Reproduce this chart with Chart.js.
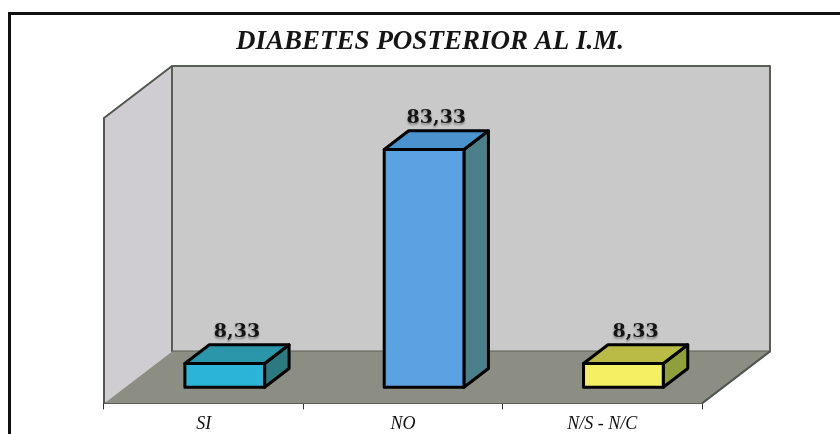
<!DOCTYPE html>
<html>
<head>
<meta charset="utf-8">
<script src="https://cdn.jsdelivr.net/npm/chart.js@4/dist/chart.umd.min.js"></script>
<style>
  html,body{margin:0;padding:0;background:#fff;}
  #wrap{width:840px;height:434px;}
</style>
</head>
<body>
<div id="wrap"><canvas id="c" width="840" height="434"></canvas></div>
<script>
// datos del grafico
const titleText = "DIABETES POSTERIOR AL I.M.";
const categories = ["SI", "NO", "N/S - N/C"];
const values = [8.33, 83.33, 8.33];
const frontColors = ["#2cb3d8", "#5ba2e2", "#f3f064"];
const topColors   = ["#2b95a9", "#4a93cf", "#b9bb45"];
const sideColors  = ["#2a7a80", "#4b7f8a", "#8f9f3c"];

const fmt = n => n.toFixed(2).replace(".", ",");

// profundidad del "3D" (pared del fondo) y de las barras
const DEPTH = { dx: 68, dy: -52 };
const BAR_OFF = 0.31, BAR_DEPTH = 0.36;

function poly(ctx, pts, fill, stroke, lw){
  ctx.beginPath();
  ctx.moveTo(pts[0][0], pts[0][1]);
  for(let i=1;i<pts.length;i++) ctx.lineTo(pts[i][0], pts[i][1]);
  ctx.closePath();
  if(fill){ ctx.fillStyle = fill; ctx.fill(); }
  if(stroke){ ctx.strokeStyle = stroke; ctx.lineWidth = lw || 1; ctx.stroke(); }
}

const box3d = {
  id: "box3d",
  beforeDraw(chart){
    const ctx = chart.ctx;
    ctx.save();
    // marco exterior
    ctx.strokeStyle = "#111"; ctx.lineWidth = 3;
    ctx.strokeRect(9.5, 13.5, 850, 440);
    // titulo
    ctx.fillStyle = "#151515";
    ctx.font = "bold italic 27px 'Liberation Serif', serif";
    ctx.textAlign = "center"; ctx.textBaseline = "middle";
    ctx.fillText(titleText, 430, 42);
    ctx.restore();
  },
  beforeDatasetsDraw(chart){
    const ctx = chart.ctx, a = chart.chartArea;
    const L=a.left, R=a.right, T=a.top, B=a.bottom, dx=DEPTH.dx, dy=DEPTH.dy;
    ctx.save();
    ctx.lineJoin = "round";
    // pared izquierda
    poly(ctx, [[L,T],[L+dx,T+dy],[L+dx,B+dy],[L,B]], "#cfcdd1", null);
    // pared del fondo
    poly(ctx, [[L+dx,T+dy],[R+dx,T+dy],[R+dx,B+dy],[L+dx,B+dy]], "#c9c9c9", "#5a5f55", 2);
    // piso
    poly(ctx, [[L,B],[L+dx,B+dy],[R+dx,B+dy],[R,B]], "#8c8e84", null);
    ctx.strokeStyle = "#505650"; ctx.lineWidth = 2;
    ctx.beginPath();
    ctx.moveTo(L,B); ctx.lineTo(L,T); ctx.lineTo(L+dx,T+dy);
    ctx.moveTo(R+dx,B+dy); ctx.lineTo(R,B);
    ctx.stroke();
    ctx.restore();
  },
  afterDatasetsDraw(chart){
    const ctx = chart.ctx;
    const meta = chart.getDatasetMeta(0);
    const ox = DEPTH.dx*BAR_OFF, oy = DEPTH.dy*BAR_OFF;
    const ddx = DEPTH.dx*BAR_DEPTH, ddy = DEPTH.dy*BAR_DEPTH;
    ctx.save();
    ctx.lineJoin = "round";
    meta.data.forEach((bar, i) => {
      const p = bar.getProps(["x","y","base","width"], true);
      const x0 = p.x - p.width/2 + ox, x1 = p.x + p.width/2 + ox;
      const yt = p.y + oy, yb = p.base + oy;
      poly(ctx, [[x1,yt],[x1+ddx,yt+ddy],[x1+ddx,yb+ddy],[x1,yb]], sideColors[i], "#000", 3);
      poly(ctx, [[x0,yt],[x0+ddx,yt+ddy],[x1+ddx,yt+ddy],[x1,yt]], topColors[i], "#000", 3);
      poly(ctx, [[x0,yt],[x1,yt],[x1,yb],[x0,yb]], frontColors[i], "#000", 3);
      // etiqueta de valor
      ctx.save();
      ctx.font = "bold 19px 'DejaVu Serif', serif";
      ctx.textAlign = "center"; ctx.textBaseline = "alphabetic";
      ctx.shadowColor = "rgba(0,0,0,0.35)"; ctx.shadowOffsetY = 2; ctx.shadowBlur = 2;
      ctx.fillStyle = "#141414";
      ctx.fillText(fmt(values[i]), (x0+x1)/2 + ddx/2, yt + ddy - 8);
      ctx.restore();
    });
    ctx.restore();
  }
};

new Chart(document.getElementById("c"), {
  type: "bar",
  data: {
    labels: categories,
    datasets: [{
      data: values,
      backgroundColor: "rgba(0,0,0,0)",
      borderWidth: 0,
      categoryPercentage: 1,
      barPercentage: 0.4
    }]
  },
  options: {
    responsive: false,
    animation: false,
    events: [],
    layout: { padding: { left: 104, right: 138, top: 118, bottom: -5 } },
    plugins: { legend: { display: false }, tooltip: { enabled: false }, title: { display: false } },
    scales: {
      x: {
        grid: { drawOnChartArea: false, drawTicks: true, tickLength: 6, color: "#333", offset: true },
        border: { display: true, color: "#333", width: 2 },
        ticks: {
          color: "#111", padding: 4, maxRotation: 0, autoSkip: false,
          font: { family: "'Liberation Serif', serif", style: "italic", size: 18 }
        }
      },
      y: { display: false, min: 0, max: 100 }
    }
  },
  plugins: [box3d]
});
</script>
</body>
</html>
